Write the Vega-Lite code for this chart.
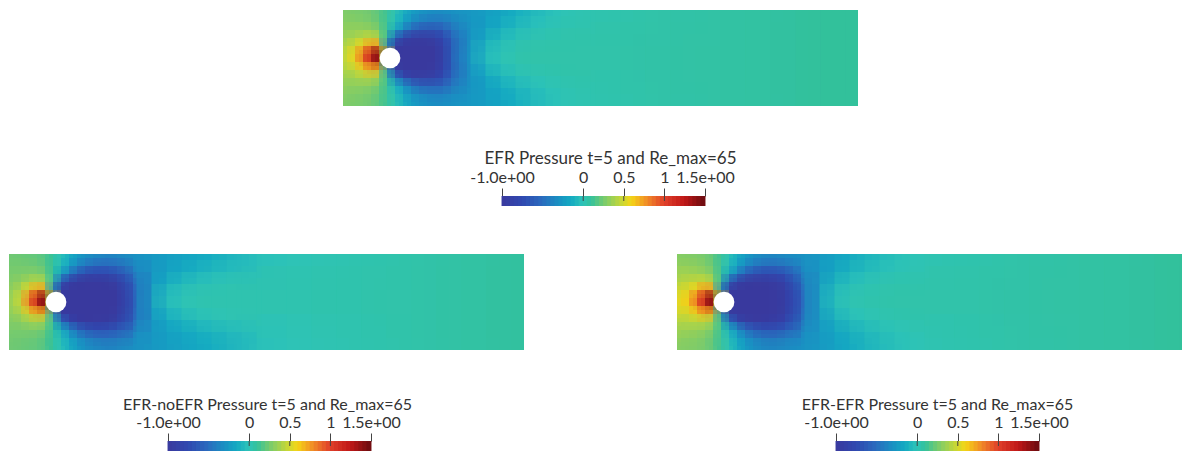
{"$schema":"https://vega.github.io/schema/vega-lite/v6.json","background":"white","padding":{"left":9,"top":10,"right":0,"bottom":0},"config":{"view":{"stroke":null},"axis":{"labelFont":"Lato","titleFont":"Lato","labelFontSize":16,"titleFontSize":16,"titleFontWeight":"normal","labelColor":"#333","titleColor":"#333"}},
"datasets":{"hole":[{"x":47,"y":48}],"ticks":[{"t":0},{"t":0.5},{"t":1}],
"bar":[{"v":-0.975},{"v":-0.925},{"v":-0.875},{"v":-0.825},{"v":-0.775},{"v":-0.725},{"v":-0.675},{"v":-0.625},{"v":-0.575},{"v":-0.525},{"v":-0.475},{"v":-0.425},{"v":-0.375},{"v":-0.325},{"v":-0.275},{"v":-0.225},{"v":-0.175},{"v":-0.125},{"v":-0.075},{"v":-0.025},{"v":0.025},{"v":0.075},{"v":0.125},{"v":0.175},{"v":0.225},{"v":0.275},{"v":0.325},{"v":0.375},{"v":0.425},{"v":0.475},{"v":0.525},{"v":0.575},{"v":0.625},{"v":0.675},{"v":0.725},{"v":0.775},{"v":0.825},{"v":0.875},{"v":0.925},{"v":0.975},{"v":1.025},{"v":1.075},{"v":1.125},{"v":1.175},{"v":1.225},{"v":1.275},{"v":1.325},{"v":1.375},{"v":1.425},{"v":1.475}],
"near":[
{"x":4,"y":4,"a":0.28,"b":0.24,"c":0.3},{"x":12,"y":4,"a":0.27,"b":0.23,"c":0.29},{"x":20,"y":4,"a":0.26,"b":0.22,"c":0.28},{"x":28,"y":4,"a":0.24,"b":0.21,"c":0.26},{"x":36,"y":4,"a":0.2,"b":0.18,"c":0.21},{"x":44,"y":4,"a":0.12,"b":0.1,"c":0.12},{"x":52,"y":4,"a":0.02,"b":0,"c":0.01},{"x":60,"y":4,"a":-0.1,"b":-0.12,"c":-0.12},{"x":68,"y":4,"a":-0.2,"b":-0.22,"c":-0.22},{"x":76,"y":4,"a":-0.27,"b":-0.3,"c":-0.3},{"x":84,"y":4,"a":-0.3,"b":-0.34,"c":-0.34},{"x":92,"y":4,"a":-0.32,"b":-0.36,"c":-0.36},{"x":100,"y":4,"a":-0.32,"b":-0.37,"c":-0.36},{"x":108,"y":4,"a":-0.3,"b":-0.36,"c":-0.34},{"x":116,"y":4,"a":-0.28,"b":-0.34,"c":-0.32},
{"x":4,"y":12,"a":0.3,"b":0.25,"c":0.33},{"x":12,"y":12,"a":0.29,"b":0.25,"c":0.32},{"x":20,"y":12,"a":0.28,"b":0.24,"c":0.31},{"x":28,"y":12,"a":0.26,"b":0.23,"c":0.28},{"x":36,"y":12,"a":0.22,"b":0.2,"c":0.23},{"x":44,"y":12,"a":0.12,"b":0.1,"c":0.12},{"x":52,"y":12,"a":0,"b":-0.02,"c":-0.01},{"x":60,"y":12,"a":-0.15,"b":-0.18,"c":-0.17},{"x":68,"y":12,"a":-0.28,"b":-0.32,"c":-0.3},{"x":76,"y":12,"a":-0.36,"b":-0.42,"c":-0.4},{"x":84,"y":12,"a":-0.4,"b":-0.48,"c":-0.45},{"x":92,"y":12,"a":-0.42,"b":-0.5,"c":-0.47},{"x":100,"y":12,"a":-0.42,"b":-0.5,"c":-0.47},{"x":108,"y":12,"a":-0.38,"b":-0.48,"c":-0.44},{"x":116,"y":12,"a":-0.33,"b":-0.45,"c":-0.4},
{"x":4,"y":20,"a":0.33,"b":0.27,"c":0.37},{"x":12,"y":20,"a":0.33,"b":0.27,"c":0.37},{"x":20,"y":20,"a":0.33,"b":0.28,"c":0.36},{"x":28,"y":20,"a":0.32,"b":0.28,"c":0.34},{"x":36,"y":20,"a":0.27,"b":0.25,"c":0.28},{"x":44,"y":20,"a":0.12,"b":0.1,"c":0.12},{"x":52,"y":20,"a":-0.1,"b":-0.14,"c":-0.12},{"x":60,"y":20,"a":-0.3,"b":-0.36,"c":-0.33},{"x":68,"y":20,"a":-0.48,"b":-0.55,"c":-0.52},{"x":76,"y":20,"a":-0.58,"b":-0.68,"c":-0.64},{"x":84,"y":20,"a":-0.62,"b":-0.72,"c":-0.7},{"x":92,"y":20,"a":-0.62,"b":-0.74,"c":-0.72},{"x":100,"y":20,"a":-0.58,"b":-0.72,"c":-0.7},{"x":108,"y":20,"a":-0.48,"b":-0.68,"c":-0.65},{"x":116,"y":20,"a":-0.38,"b":-0.6,"c":-0.55},
{"x":4,"y":28,"a":0.36,"b":0.29,"c":0.42},{"x":12,"y":28,"a":0.38,"b":0.32,"c":0.44},{"x":20,"y":28,"a":0.42,"b":0.37,"c":0.45},{"x":28,"y":28,"a":0.45,"b":0.42,"c":0.47},{"x":36,"y":28,"a":0.4,"b":0.38,"c":0.4},{"x":44,"y":28,"a":0.1,"b":0.08,"c":0.1},{"x":52,"y":28,"a":-0.45,"b":-0.5,"c":-0.48},{"x":60,"y":28,"a":-0.75,"b":-0.82,"c":-0.8},{"x":68,"y":28,"a":-0.9,"b":-0.95,"c":-0.93},{"x":76,"y":28,"a":-0.92,"b":-1,"c":-0.97},{"x":84,"y":28,"a":-0.9,"b":-1,"c":-0.97},{"x":92,"y":28,"a":-0.88,"b":-0.98,"c":-0.95},{"x":100,"y":28,"a":-0.75,"b":-0.96,"c":-0.92},{"x":108,"y":28,"a":-0.58,"b":-0.9,"c":-0.85},{"x":116,"y":28,"a":-0.42,"b":-0.75,"c":-0.68},
{"x":4,"y":36,"a":0.42,"b":0.33,"c":0.5},{"x":12,"y":36,"a":0.48,"b":0.4,"c":0.52},{"x":20,"y":36,"a":0.58,"b":0.54,"c":0.6},{"x":28,"y":36,"a":0.75,"b":0.72,"c":0.76},{"x":36,"y":36,"a":0.7,"b":0.7,"c":0.7},{"x":44,"y":36,"a":-0.2,"b":-0.2,"c":-0.2},{"x":52,"y":36,"a":-0.9,"b":-0.95,"c":-0.92},{"x":60,"y":36,"a":-1,"b":-1,"c":-1},{"x":68,"y":36,"a":-1,"b":-1,"c":-1},{"x":76,"y":36,"a":-1,"b":-1,"c":-1},{"x":84,"y":36,"a":-1,"b":-1,"c":-1},{"x":92,"y":36,"a":-0.98,"b":-1,"c":-1},{"x":100,"y":36,"a":-0.85,"b":-1,"c":-0.98},{"x":108,"y":36,"a":-0.65,"b":-0.98,"c":-0.93},{"x":116,"y":36,"a":-0.45,"b":-0.82,"c":-0.75},
{"x":4,"y":44,"a":0.46,"b":0.36,"c":0.55},{"x":12,"y":44,"a":0.58,"b":0.48,"c":0.62},{"x":20,"y":44,"a":0.85,"b":0.8,"c":0.86},{"x":28,"y":44,"a":1.15,"b":1.15,"c":1.15},{"x":36,"y":44,"a":1.45,"b":1.45,"c":1.45},{"x":44,"y":44,"a":0.5,"b":0.5,"c":0.5},{"x":52,"y":44,"a":-1,"b":-1,"c":-1},{"x":60,"y":44,"a":-1,"b":-1,"c":-1},{"x":68,"y":44,"a":-1,"b":-1,"c":-1},{"x":76,"y":44,"a":-1,"b":-1,"c":-1},{"x":84,"y":44,"a":-1,"b":-1,"c":-1},{"x":92,"y":44,"a":-1,"b":-1,"c":-1},{"x":100,"y":44,"a":-0.88,"b":-1,"c":-0.98},{"x":108,"y":44,"a":-0.66,"b":-1,"c":-0.95},{"x":116,"y":44,"a":-0.42,"b":-0.85,"c":-0.78},
{"x":4,"y":52,"a":0.46,"b":0.36,"c":0.55},{"x":12,"y":52,"a":0.58,"b":0.48,"c":0.62},{"x":20,"y":52,"a":0.85,"b":0.8,"c":0.86},{"x":28,"y":52,"a":1.15,"b":1.15,"c":1.15},{"x":36,"y":52,"a":1.45,"b":1.45,"c":1.45},{"x":44,"y":52,"a":0.5,"b":0.5,"c":0.5},{"x":52,"y":52,"a":-1,"b":-1,"c":-1},{"x":60,"y":52,"a":-1,"b":-1,"c":-1},{"x":68,"y":52,"a":-1,"b":-1,"c":-1},{"x":76,"y":52,"a":-1,"b":-1,"c":-1},{"x":84,"y":52,"a":-1,"b":-1,"c":-1},{"x":92,"y":52,"a":-1,"b":-1,"c":-1},{"x":100,"y":52,"a":-0.88,"b":-1,"c":-0.98},{"x":108,"y":52,"a":-0.66,"b":-1,"c":-0.95},{"x":116,"y":52,"a":-0.42,"b":-0.85,"c":-0.78},
{"x":4,"y":60,"a":0.42,"b":0.33,"c":0.5},{"x":12,"y":60,"a":0.48,"b":0.4,"c":0.52},{"x":20,"y":60,"a":0.58,"b":0.54,"c":0.6},{"x":28,"y":60,"a":0.75,"b":0.72,"c":0.76},{"x":36,"y":60,"a":0.7,"b":0.7,"c":0.7},{"x":44,"y":60,"a":-0.2,"b":-0.2,"c":-0.2},{"x":52,"y":60,"a":-0.9,"b":-0.95,"c":-0.92},{"x":60,"y":60,"a":-1,"b":-1,"c":-1},{"x":68,"y":60,"a":-1,"b":-1,"c":-1},{"x":76,"y":60,"a":-1,"b":-1,"c":-1},{"x":84,"y":60,"a":-1,"b":-1,"c":-1},{"x":92,"y":60,"a":-0.98,"b":-1,"c":-1},{"x":100,"y":60,"a":-0.85,"b":-1,"c":-0.98},{"x":108,"y":60,"a":-0.65,"b":-0.98,"c":-0.93},{"x":116,"y":60,"a":-0.45,"b":-0.82,"c":-0.75},
{"x":4,"y":68,"a":0.36,"b":0.29,"c":0.42},{"x":12,"y":68,"a":0.38,"b":0.32,"c":0.44},{"x":20,"y":68,"a":0.42,"b":0.37,"c":0.45},{"x":28,"y":68,"a":0.45,"b":0.42,"c":0.47},{"x":36,"y":68,"a":0.4,"b":0.38,"c":0.4},{"x":44,"y":68,"a":0.1,"b":0.08,"c":0.1},{"x":52,"y":68,"a":-0.45,"b":-0.5,"c":-0.48},{"x":60,"y":68,"a":-0.75,"b":-0.82,"c":-0.8},{"x":68,"y":68,"a":-0.9,"b":-0.95,"c":-0.93},{"x":76,"y":68,"a":-0.92,"b":-1,"c":-0.97},{"x":84,"y":68,"a":-0.9,"b":-1,"c":-0.97},{"x":92,"y":68,"a":-0.88,"b":-0.98,"c":-0.95},{"x":100,"y":68,"a":-0.75,"b":-0.96,"c":-0.92},{"x":108,"y":68,"a":-0.58,"b":-0.9,"c":-0.85},{"x":116,"y":68,"a":-0.42,"b":-0.75,"c":-0.68},
{"x":4,"y":76,"a":0.33,"b":0.27,"c":0.37},{"x":12,"y":76,"a":0.33,"b":0.27,"c":0.37},{"x":20,"y":76,"a":0.33,"b":0.28,"c":0.36},{"x":28,"y":76,"a":0.32,"b":0.28,"c":0.34},{"x":36,"y":76,"a":0.27,"b":0.25,"c":0.28},{"x":44,"y":76,"a":0.12,"b":0.1,"c":0.12},{"x":52,"y":76,"a":-0.1,"b":-0.14,"c":-0.12},{"x":60,"y":76,"a":-0.3,"b":-0.36,"c":-0.33},{"x":68,"y":76,"a":-0.48,"b":-0.55,"c":-0.52},{"x":76,"y":76,"a":-0.58,"b":-0.68,"c":-0.64},{"x":84,"y":76,"a":-0.62,"b":-0.72,"c":-0.7},{"x":92,"y":76,"a":-0.62,"b":-0.74,"c":-0.72},{"x":100,"y":76,"a":-0.58,"b":-0.72,"c":-0.7},{"x":108,"y":76,"a":-0.48,"b":-0.68,"c":-0.65},{"x":116,"y":76,"a":-0.38,"b":-0.6,"c":-0.55},
{"x":4,"y":84,"a":0.3,"b":0.25,"c":0.33},{"x":12,"y":84,"a":0.29,"b":0.25,"c":0.32},{"x":20,"y":84,"a":0.28,"b":0.24,"c":0.31},{"x":28,"y":84,"a":0.26,"b":0.23,"c":0.28},{"x":36,"y":84,"a":0.22,"b":0.2,"c":0.23},{"x":44,"y":84,"a":0.12,"b":0.1,"c":0.12},{"x":52,"y":84,"a":0,"b":-0.02,"c":-0.01},{"x":60,"y":84,"a":-0.15,"b":-0.18,"c":-0.17},{"x":68,"y":84,"a":-0.28,"b":-0.32,"c":-0.3},{"x":76,"y":84,"a":-0.36,"b":-0.42,"c":-0.4},{"x":84,"y":84,"a":-0.4,"b":-0.48,"c":-0.45},{"x":92,"y":84,"a":-0.42,"b":-0.5,"c":-0.47},{"x":100,"y":84,"a":-0.42,"b":-0.5,"c":-0.47},{"x":108,"y":84,"a":-0.38,"b":-0.48,"c":-0.44},{"x":116,"y":84,"a":-0.33,"b":-0.45,"c":-0.4},
{"x":4,"y":92,"a":0.28,"b":0.24,"c":0.3},{"x":12,"y":92,"a":0.27,"b":0.23,"c":0.29},{"x":20,"y":92,"a":0.26,"b":0.22,"c":0.28},{"x":28,"y":92,"a":0.24,"b":0.21,"c":0.26},{"x":36,"y":92,"a":0.2,"b":0.18,"c":0.21},{"x":44,"y":92,"a":0.12,"b":0.1,"c":0.12},{"x":52,"y":92,"a":0.02,"b":0,"c":0.01},{"x":60,"y":92,"a":-0.1,"b":-0.12,"c":-0.12},{"x":68,"y":92,"a":-0.2,"b":-0.22,"c":-0.22},{"x":76,"y":92,"a":-0.27,"b":-0.3,"c":-0.3},{"x":84,"y":92,"a":-0.3,"b":-0.34,"c":-0.34},{"x":92,"y":92,"a":-0.32,"b":-0.36,"c":-0.36},{"x":100,"y":92,"a":-0.32,"b":-0.37,"c":-0.36},{"x":108,"y":92,"a":-0.3,"b":-0.36,"c":-0.34},{"x":116,"y":92,"a":-0.28,"b":-0.34,"c":-0.32}],
"mid":[
{"x":127.5,"y":6,"a":-0.26,"b":-0.3,"c":-0.29},{"x":142.5,"y":6,"a":-0.22,"b":-0.26,"c":-0.25},{"x":157.5,"y":6,"a":-0.18,"b":-0.22,"c":-0.2},{"x":172.5,"y":6,"a":-0.13,"b":-0.19,"c":-0.15},{"x":187.5,"y":6,"a":-0.08,"b":-0.16,"c":-0.1},{"x":202.5,"y":6,"a":-0.04,"b":-0.13,"c":-0.06},{"x":217.5,"y":6,"a":0,"b":-0.1,"c":-0.03},{"x":232.5,"y":6,"a":0.02,"b":-0.07,"c":0},
{"x":127.5,"y":18,"a":-0.3,"b":-0.38,"c":-0.35},{"x":142.5,"y":18,"a":-0.22,"b":-0.28,"c":-0.26},{"x":157.5,"y":18,"a":-0.15,"b":-0.21,"c":-0.18},{"x":172.5,"y":18,"a":-0.08,"b":-0.16,"c":-0.11},{"x":187.5,"y":18,"a":-0.04,"b":-0.12,"c":-0.06},{"x":202.5,"y":18,"a":0,"b":-0.08,"c":-0.03},{"x":217.5,"y":18,"a":0.02,"b":-0.06,"c":0},{"x":232.5,"y":18,"a":0.03,"b":-0.04,"c":0.01},
{"x":127.5,"y":30,"a":-0.32,"b":-0.5,"c":-0.45},{"x":142.5,"y":30,"a":-0.16,"b":-0.3,"c":-0.25},{"x":157.5,"y":30,"a":-0.06,"b":-0.15,"c":-0.11},{"x":172.5,"y":30,"a":-0.02,"b":-0.07,"c":-0.04},{"x":187.5,"y":30,"a":0.02,"b":-0.03,"c":0},{"x":202.5,"y":30,"a":0.03,"b":-0.01,"c":0.02},{"x":217.5,"y":30,"a":0.04,"b":0.01,"c":0.03},{"x":232.5,"y":30,"a":0.05,"b":0.02,"c":0.04},
{"x":127.5,"y":42,"a":-0.3,"b":-0.55,"c":-0.5},{"x":142.5,"y":42,"a":-0.08,"b":-0.25,"c":-0.22},{"x":157.5,"y":42,"a":0,"b":-0.06,"c":-0.05},{"x":172.5,"y":42,"a":0.03,"b":0,"c":0.01},{"x":187.5,"y":42,"a":0.05,"b":0.02,"c":0.03},{"x":202.5,"y":42,"a":0.05,"b":0.03,"c":0.04},{"x":217.5,"y":42,"a":0.05,"b":0.03,"c":0.05},{"x":232.5,"y":42,"a":0.05,"b":0.03,"c":0.05},
{"x":127.5,"y":54,"a":-0.3,"b":-0.55,"c":-0.5},{"x":142.5,"y":54,"a":-0.08,"b":-0.25,"c":-0.22},{"x":157.5,"y":54,"a":0,"b":-0.06,"c":-0.05},{"x":172.5,"y":54,"a":0.03,"b":0,"c":0.01},{"x":187.5,"y":54,"a":0.05,"b":0.02,"c":0.03},{"x":202.5,"y":54,"a":0.05,"b":0.03,"c":0.04},{"x":217.5,"y":54,"a":0.05,"b":0.03,"c":0.05},{"x":232.5,"y":54,"a":0.05,"b":0.03,"c":0.05},
{"x":127.5,"y":66,"a":-0.32,"b":-0.5,"c":-0.45},{"x":142.5,"y":66,"a":-0.16,"b":-0.3,"c":-0.25},{"x":157.5,"y":66,"a":-0.06,"b":-0.15,"c":-0.11},{"x":172.5,"y":66,"a":-0.02,"b":-0.07,"c":-0.04},{"x":187.5,"y":66,"a":0.02,"b":-0.03,"c":0},{"x":202.5,"y":66,"a":0.03,"b":-0.01,"c":0.02},{"x":217.5,"y":66,"a":0.04,"b":0.01,"c":0.03},{"x":232.5,"y":66,"a":0.05,"b":0.02,"c":0.04},
{"x":127.5,"y":78,"a":-0.3,"b":-0.38,"c":-0.35},{"x":142.5,"y":78,"a":-0.22,"b":-0.28,"c":-0.26},{"x":157.5,"y":78,"a":-0.15,"b":-0.21,"c":-0.18},{"x":172.5,"y":78,"a":-0.08,"b":-0.16,"c":-0.11},{"x":187.5,"y":78,"a":-0.04,"b":-0.12,"c":-0.06},{"x":202.5,"y":78,"a":0,"b":-0.08,"c":-0.03},{"x":217.5,"y":78,"a":0.02,"b":-0.06,"c":0},{"x":232.5,"y":78,"a":0.03,"b":-0.04,"c":0.01},
{"x":127.5,"y":90,"a":-0.26,"b":-0.3,"c":-0.29},{"x":142.5,"y":90,"a":-0.22,"b":-0.26,"c":-0.25},{"x":157.5,"y":90,"a":-0.18,"b":-0.22,"c":-0.2},{"x":172.5,"y":90,"a":-0.13,"b":-0.19,"c":-0.15},{"x":187.5,"y":90,"a":-0.08,"b":-0.16,"c":-0.1},{"x":202.5,"y":90,"a":-0.04,"b":-0.13,"c":-0.06},{"x":217.5,"y":90,"a":0,"b":-0.1,"c":-0.03},{"x":232.5,"y":90,"a":0.02,"b":-0.07,"c":0}],
"far":[
{"x":252.5,"y":12,"a":0.03,"b":-0.02,"c":0.02},{"x":277.5,"y":12,"a":0.04,"b":0,"c":0.03},{"x":302.5,"y":12,"a":0.05,"b":0.01,"c":0.04},{"x":327.5,"y":12,"a":0.06,"b":0.02,"c":0.05},{"x":352.5,"y":12,"a":0.06,"b":0.03,"c":0.06},{"x":377.5,"y":12,"a":0.07,"b":0.04,"c":0.06},{"x":402.5,"y":12,"a":0.08,"b":0.05,"c":0.07},{"x":427.5,"y":12,"a":0.08,"b":0.06,"c":0.08},{"x":452.5,"y":12,"a":0.09,"b":0.07,"c":0.08},{"x":477.5,"y":12,"a":0.1,"b":0.08,"c":0.09},{"x":502.5,"y":12,"a":0.1,"b":0.09,"c":0.1},
{"x":252.5,"y":36,"a":0.05,"b":0.03,"c":0.05},{"x":277.5,"y":36,"a":0.05,"b":0.03,"c":0.05},{"x":302.5,"y":36,"a":0.06,"b":0.03,"c":0.05},{"x":327.5,"y":36,"a":0.06,"b":0.04,"c":0.06},{"x":352.5,"y":36,"a":0.07,"b":0.04,"c":0.06},{"x":377.5,"y":36,"a":0.07,"b":0.05,"c":0.07},{"x":402.5,"y":36,"a":0.08,"b":0.05,"c":0.07},{"x":427.5,"y":36,"a":0.08,"b":0.06,"c":0.08},{"x":452.5,"y":36,"a":0.09,"b":0.07,"c":0.08},{"x":477.5,"y":36,"a":0.1,"b":0.08,"c":0.09},{"x":502.5,"y":36,"a":0.1,"b":0.09,"c":0.1},
{"x":252.5,"y":60,"a":0.05,"b":0.03,"c":0.05},{"x":277.5,"y":60,"a":0.05,"b":0.03,"c":0.05},{"x":302.5,"y":60,"a":0.06,"b":0.03,"c":0.05},{"x":327.5,"y":60,"a":0.06,"b":0.04,"c":0.06},{"x":352.5,"y":60,"a":0.07,"b":0.04,"c":0.06},{"x":377.5,"y":60,"a":0.07,"b":0.05,"c":0.07},{"x":402.5,"y":60,"a":0.08,"b":0.05,"c":0.07},{"x":427.5,"y":60,"a":0.08,"b":0.06,"c":0.08},{"x":452.5,"y":60,"a":0.09,"b":0.07,"c":0.08},{"x":477.5,"y":60,"a":0.1,"b":0.08,"c":0.09},{"x":502.5,"y":60,"a":0.1,"b":0.09,"c":0.1},
{"x":252.5,"y":84,"a":0.03,"b":-0.02,"c":0.02},{"x":277.5,"y":84,"a":0.04,"b":0,"c":0.03},{"x":302.5,"y":84,"a":0.05,"b":0.01,"c":0.04},{"x":327.5,"y":84,"a":0.06,"b":0.02,"c":0.05},{"x":352.5,"y":84,"a":0.06,"b":0.03,"c":0.06},{"x":377.5,"y":84,"a":0.07,"b":0.04,"c":0.06},{"x":402.5,"y":84,"a":0.08,"b":0.05,"c":0.07},{"x":427.5,"y":84,"a":0.08,"b":0.06,"c":0.08},{"x":452.5,"y":84,"a":0.09,"b":0.07,"c":0.08},{"x":477.5,"y":84,"a":0.1,"b":0.08,"c":0.09},{"x":502.5,"y":84,"a":0.1,"b":0.09,"c":0.1}]},
"vconcat":[
{"vconcat":[
{"width":515,"height":96,"encoding":{"x":{"field":"x","type":"quantitative","axis":null,"scale":{"domain":[0,515]}},"y":{"field":"y","type":"quantitative","axis":null,"scale":{"domain":[0,96],"reverse":true}},"color":{"field":"a","type":"quantitative","legend":null,"scale":{"domain":[-1,-0.75,-0.5,-0.3,-0.15,0,0.1,0.25,0.35,0.5,0.6,0.8,1,1.25,1.5],"range":["#3a3a9e","#3048b0","#2a6cbe","#1a90c2","#14a9c2","#2ec4b8","#33c19c","#74ca70","#98d058","#d0d830","#f5d516","#f08828","#e0402a","#c01818","#6a0c10"],"interpolate":"rgb"}}},
"layer":[{"data":{"name":"near"},"mark":{"type":"rect","width":8,"height":8}},{"data":{"name":"mid"},"mark":{"type":"rect","width":15,"height":12}},{"data":{"name":"far"},"mark":{"type":"rect","width":25,"height":24}},{"data":{"name":"far"},"mark":{"type":"rect","width":50,"height":48,"opacity":0.4,"clip":true}},{"data":{"name":"mid"},"mark":{"type":"rect","width":30,"height":24,"opacity":0.4,"clip":true}},{"data":{"name":"near"},"mark":{"type":"rect","width":16,"height":16,"opacity":0.4,"clip":true}},{"data":{"name":"hole"},"mark":{"type":"point","filled":true,"opacity":1,"size":430},"encoding":{"color":{"value":"white"}}}]},
{"width":209,"height":10,"data":{"name":"bar"},"encoding":{"x":{"field":"v","type":"quantitative","scale":{"domain":[-1.074,1.5],"nice":false,"zero":false},"axis":{"orient":"top","values":[-1,0,0.5,1,1.5],"title":"EFR Pressure t=5 and Re_max=65","titleFontSize":17,"titleX":114,"labelExpr":"datum.value==-1?'-1.0e+00':datum.value==1.5?'1.5e+00':''+datum.value","labelOverlap":false,"labelFlush":false,"labelBound":false,"grid":false,"domain":false,"tickSize":8,"tickColor":"#444","labelPadding":3,"titlePadding":2}}},
"layer":[{"mark":{"type":"rect","width":5,"height":10},"encoding":{"y":{"datum":0.5,"type":"quantitative","scale":{"domain":[0,1]},"axis":null},"color":{"field":"v","type":"quantitative","legend":null,"scale":{"domain":[-1,-0.75,-0.5,-0.3,-0.15,0,0.1,0.25,0.35,0.5,0.6,0.8,1,1.25,1.5],"range":["#3a3a9e","#3048b0","#2a6cbe","#2a9ad0","#3fb4d0","#7ed6d6","#8ed8b0","#90d880","#a8d858","#d0d830","#f5d516","#f08828","#e0402a","#c01818","#6a0c10"],"interpolate":"rgb"}}}},{"data":{"name":"ticks"},"mark":{"type":"rule","color":"#444"},"encoding":{"x":{"field":"t","type":"quantitative"},"y":{"datum":0.5,"type":"quantitative","scale":{"domain":[0,1]},"axis":null},"y2":{"datum":1}}}]}
],"spacing":90,"center":true,"bounds":"flush"},
{"hconcat":[
{"vconcat":[
{"width":515,"height":96,"encoding":{"x":{"field":"x","type":"quantitative","axis":null,"scale":{"domain":[0,515]}},"y":{"field":"y","type":"quantitative","axis":null,"scale":{"domain":[0,96],"reverse":true}},"color":{"field":"b","type":"quantitative","legend":null,"scale":{"domain":[-1,-0.75,-0.5,-0.3,-0.15,0,0.1,0.25,0.35,0.5,0.6,0.8,1,1.25,1.5],"range":["#3a3a9e","#3048b0","#2a6cbe","#1a90c2","#14a9c2","#2ec4b8","#33c19c","#74ca70","#98d058","#d0d830","#f5d516","#f08828","#e0402a","#c01818","#6a0c10"],"interpolate":"rgb"}}},
"layer":[{"data":{"name":"near"},"mark":{"type":"rect","width":8,"height":8}},{"data":{"name":"mid"},"mark":{"type":"rect","width":15,"height":12}},{"data":{"name":"far"},"mark":{"type":"rect","width":25,"height":24}},{"data":{"name":"far"},"mark":{"type":"rect","width":50,"height":48,"opacity":0.4,"clip":true}},{"data":{"name":"mid"},"mark":{"type":"rect","width":30,"height":24,"opacity":0.4,"clip":true}},{"data":{"name":"near"},"mark":{"type":"rect","width":16,"height":16,"opacity":0.4,"clip":true}},{"data":{"name":"hole"},"mark":{"type":"point","filled":true,"opacity":1,"size":430},"encoding":{"color":{"value":"white"}}}]},
{"width":209,"height":10,"data":{"name":"bar"},"encoding":{"x":{"field":"v","type":"quantitative","scale":{"domain":[-1.074,1.5],"nice":false,"zero":false},"axis":{"orient":"top","values":[-1,0,0.5,1,1.5],"title":"EFR-noEFR Pressure t=5 and Re_max=65","titleX":105,"labelExpr":"datum.value==-1?'-1.0e+00':datum.value==1.5?'1.5e+00':''+datum.value","labelOverlap":false,"labelFlush":false,"labelBound":false,"grid":false,"domain":false,"tickSize":8,"tickColor":"#444","labelPadding":3,"titlePadding":2}}},
"layer":[{"mark":{"type":"rect","width":5,"height":10},"encoding":{"y":{"datum":0.5,"type":"quantitative","scale":{"domain":[0,1]},"axis":null},"color":{"field":"v","type":"quantitative","legend":null,"scale":{"domain":[-1,-0.75,-0.5,-0.3,-0.15,0,0.1,0.25,0.35,0.5,0.6,0.8,1,1.25,1.5],"range":["#3a3a9e","#3048b0","#2a6cbe","#2a9ad0","#3fb4d0","#7ed6d6","#8ed8b0","#90d880","#a8d858","#d0d830","#f5d516","#f08828","#e0402a","#c01818","#6a0c10"],"interpolate":"rgb"}}}},{"data":{"name":"ticks"},"mark":{"type":"rule","color":"#444"},"encoding":{"x":{"field":"t","type":"quantitative"},"y":{"datum":0.5,"type":"quantitative","scale":{"domain":[0,1]},"axis":null},"y2":{"datum":1}}}]}
],"spacing":91,"center":true,"bounds":"flush"},
{"vconcat":[
{"width":515,"height":96,"encoding":{"x":{"field":"x","type":"quantitative","axis":null,"scale":{"domain":[0,515]}},"y":{"field":"y","type":"quantitative","axis":null,"scale":{"domain":[0,96],"reverse":true}},"color":{"field":"c","type":"quantitative","legend":null,"scale":{"domain":[-1,-0.75,-0.5,-0.3,-0.15,0,0.1,0.25,0.35,0.5,0.6,0.8,1,1.25,1.5],"range":["#3a3a9e","#3048b0","#2a6cbe","#1a90c2","#14a9c2","#2ec4b8","#33c19c","#74ca70","#98d058","#d0d830","#f5d516","#f08828","#e0402a","#c01818","#6a0c10"],"interpolate":"rgb"}}},
"layer":[{"data":{"name":"near"},"mark":{"type":"rect","width":8,"height":8}},{"data":{"name":"mid"},"mark":{"type":"rect","width":15,"height":12}},{"data":{"name":"far"},"mark":{"type":"rect","width":25,"height":24}},{"data":{"name":"far"},"mark":{"type":"rect","width":50,"height":48,"opacity":0.4,"clip":true}},{"data":{"name":"mid"},"mark":{"type":"rect","width":30,"height":24,"opacity":0.4,"clip":true}},{"data":{"name":"near"},"mark":{"type":"rect","width":16,"height":16,"opacity":0.4,"clip":true}},{"data":{"name":"hole"},"mark":{"type":"point","filled":true,"opacity":1,"size":430},"encoding":{"color":{"value":"white"}}}]},
{"width":209,"height":10,"data":{"name":"bar"},"encoding":{"x":{"field":"v","type":"quantitative","scale":{"domain":[-1.074,1.5],"nice":false,"zero":false},"axis":{"orient":"top","values":[-1,0,0.5,1,1.5],"title":"EFR-EFR Pressure t=5 and Re_max=65","titleX":107,"labelExpr":"datum.value==-1?'-1.0e+00':datum.value==1.5?'1.5e+00':''+datum.value","labelOverlap":false,"labelFlush":false,"labelBound":false,"grid":false,"domain":false,"tickSize":8,"tickColor":"#444","labelPadding":3,"titlePadding":2}}},
"layer":[{"mark":{"type":"rect","width":5,"height":10},"encoding":{"y":{"datum":0.5,"type":"quantitative","scale":{"domain":[0,1]},"axis":null},"color":{"field":"v","type":"quantitative","legend":null,"scale":{"domain":[-1,-0.75,-0.5,-0.3,-0.15,0,0.1,0.25,0.35,0.5,0.6,0.8,1,1.25,1.5],"range":["#3a3a9e","#3048b0","#2a6cbe","#2a9ad0","#3fb4d0","#7ed6d6","#8ed8b0","#90d880","#a8d858","#d0d830","#f5d516","#f08828","#e0402a","#c01818","#6a0c10"],"interpolate":"rgb"}}}},{"data":{"name":"ticks"},"mark":{"type":"rule","color":"#444"},"encoding":{"x":{"field":"t","type":"quantitative"},"y":{"datum":0.5,"type":"quantitative","scale":{"domain":[0,1]},"axis":null},"y2":{"datum":1}}}]}
],"spacing":91,"center":true,"bounds":"flush"}
],"spacing":153}
],"spacing":48,"center":true}
